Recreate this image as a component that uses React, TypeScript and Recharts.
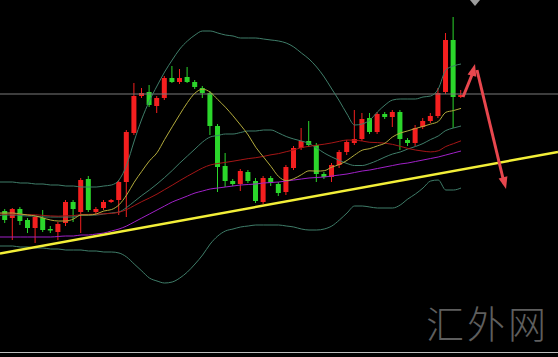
import React from 'react'
import { ComposedChart, Bar, Line, XAxis, YAxis, ReferenceLine, ReferenceDot } from 'recharts'

// candles, index 0..60
const opens = [
  389, 382, 391, 380, 372, 382, 371, 368, 377, 398, 388, 421, 388, 392, 398, 400, 418, 467, 504, 508,
  494, 502, 522, 518, 523, 518, 512, 507, 474, 434, 419, 416, 428, 419, 398, 422, 416, 408, 432, 452,
  459, 455, 426, 423, 435, 448, 457, 461, 482, 468, 486, 483, 488, 460, 457, 473, 479, 484, 508, 560, 503,
]
const highs = [
  391, 392, 393, 382, 384, 390, 374, 378, 400, 400, 422, 424, 393, 400, 401, 420, 470, 517, 512, 515,
  504, 524, 534, 531, 533, 520, 514, 509, 476, 447, 421, 431, 430, 422, 424, 424, 418, 435, 454, 472,
  479, 457, 428, 437, 450, 460, 490, 487, 487, 488, 488, 490, 490, 462, 475, 482, 487, 512, 567, 583, 510,
]
const lows = [
  377, 360, 375, 367, 357, 368, 367, 360, 374, 378, 367, 388, 386, 390, 397, 385, 383, 465, 502, 493,
  487, 500, 517, 516, 517, 511, 502, 465, 408, 413, 414, 409, 417, 397, 396, 414, 404, 405, 430, 450,
  453, 418, 421, 418, 432, 445, 455, 459, 466, 466, 481, 473, 450, 454, 454, 471, 477, 482, 506, 472, 502,
]
const closes = [
  380, 391, 379, 372, 383, 370, 370, 376, 398, 391, 420, 390, 391, 398, 400, 418, 468, 504, 507, 495,
  502, 522, 518, 522, 518, 513, 507, 474, 433, 419, 416, 429, 419, 399, 422, 417, 407, 433, 452, 459,
  455, 426, 423, 435, 448, 458, 461, 481, 468, 486, 483, 488, 461, 457, 472, 479, 484, 507, 560, 503, 505,
]

// indicator lines, index -1..60 (first value sits just left of the first candle)
const bollUpper = [
  418, 418, 418, 417, 417, 416, 416, 415, 415, 414, 414, 413, 413, 413, 414, 415, 420, 435, 459, 481,
  499, 514, 528, 540, 551, 559, 565, 569, 569, 567, 565, 564, 562, 562, 562, 561, 560, 559, 557, 553,
  547, 541, 533, 523, 511, 499, 486, 475, 476, 480, 488, 495, 500, 501, 501, 501, 503, 504, 511, 530,
  534, 536,
]
const bollMid = [
  384, 385, 385, 384.5, 384, 384, 383, 383, 383, 383, 383, 385, 385, 385, 386, 387, 388, 392.5, 398.5, 404.5,
  410, 416, 422.5, 429.5, 437, 444, 451, 458, 463, 464.5, 466, 466, 467.5, 469, 469, 470, 470, 467, 463.5, 461,
  459, 456.5, 452, 447, 443, 439.5, 436.5, 434.5, 434.5, 436.5, 439.5, 443, 446, 448, 451, 453.5, 456.5, 460.5,
  464, 469.5, 472, 474,
]
const bollLower = [
  354, 354, 354, 353, 353, 352, 352, 351, 351, 350, 350, 350, 349, 349, 348, 348, 347, 343, 336, 329,
  322, 319, 317, 318, 322, 328, 336, 345, 356, 364, 369, 371, 373, 374, 375, 375, 375, 375, 374, 373,
  371, 370, 370, 371, 374, 380, 387, 394, 394, 393, 392, 392, 392, 395, 401, 406, 412, 419, 420, 410,
  410, 412,
]
const ma10 = [
  387, 387, 387, 386, 385, 384, 382, 380, 379, 379, 381, 385, 385, 386, 389, 390.4, 395.2, 405, 417.8, 428.7,
  439.1, 447.3, 460.5, 473.2, 485.6, 497.4, 506.9, 510.8, 507.8, 500.4, 492.8, 484.2, 474.9, 465, 452.7, 443.1,
  433.5, 423.5, 419.4, 421.3, 425.3, 429.2, 428.9, 429.3, 432.9, 435.5, 439.6, 445, 449.8, 451.4, 454.1, 456.9,
  463.1, 466.9, 469.1, 471.5, 473.6, 475.9, 478.5, 487.7, 489.4, 491.6,
]
const ma30 = [
  386, 385.8, 386, 385.7, 385.3, 385.2, 384.6, 384.1, 383.8, 384.2, 384.3, 385.5, 385.6, 385.8, 386.2, 386.6,
  387.7, 390.4, 394.4, 398.4, 402, 405.9, 410.4, 414.8, 419.4, 423.8, 428, 432, 435, 436.5, 437.6, 438.8,
  440.1, 441.4, 442.3, 443.6, 445.2, 446.4, 448.3, 450.1, 452.4, 453.6, 454.8, 455.8, 457.1, 458.7, 460, 459.8,
  459, 457.7, 457.4, 456.8, 455.6, 453.7, 451.6, 450, 448.9, 448.1, 449.2, 453.5, 456.3, 459.2,
]
const ma60 = [
  363, 363, 363, 363, 363, 363, 363, 363, 363.5, 364, 364, 365, 365, 366, 367, 369, 371, 374, 378, 382,
  386, 390, 394, 398, 401, 404, 407, 409, 411, 412, 413, 414, 415, 415.5, 416, 417, 417.5, 418, 419, 420,
  421, 422, 422.5, 423, 424, 425, 426, 427.5, 429, 430, 431.5, 433, 434.5, 436, 437, 438.5, 440, 441.5,
  443, 445, 447, 449,
]

const priceLine = 506
const trendLine = [{ x: -0.66, y: 346.5 }, { x: 72.76, y: 448 }]
const arrowUp = [{ x: 60.26, y: 503 }, { x: 61.7, y: 530 }]
const arrowDown = [{ x: 62.1, y: 530 }, { x: 65.7, y: 416 }]

const RED = '#f41f1f'
const GREEN = '#2bd62b'
const BAND = '#3f7d69'
const ARROW = '#e8474e'

const data = bollUpper.map((_, k) => {
  const i = k - 1
  const row: any = {
    i,
    up: bollUpper[k],
    mid: bollMid[k],
    dn: bollLower[k],
    ma10: ma10[k],
    ma30: ma30[k],
    ma60: ma60[k],
  }
  if (i >= 0) {
    row.range = [lows[i], highs[i]]
    row.o = opens[i]
    row.c = closes[i]
    row.h = highs[i]
    row.l = lows[i]
  }
  return row
})

function Candle(props: any) {
  const { x, y, width, height, payload } = props
  if (!payload || payload.o == null) return null
  const top = Math.min(y, y + height)
  const h = Math.abs(height)
  const span = payload.h - payload.l || 1
  const toY = (v: number) => top + ((payload.h - v) / span) * h
  const color = payload.c >= payload.o ? RED : GREEN
  const bTop = toY(Math.max(payload.o, payload.c))
  const bBot = toY(Math.min(payload.o, payload.c))
  const cx = x + width / 2
  return (
    <g>
      <line x1={cx} x2={cx} y1={top} y2={top + h} stroke={color} strokeWidth={1} />
      <rect x={x} y={bTop} width={width} height={Math.max(1.5, bBot - bTop)} fill={color} />
    </g>
  )
}

function arrowHead(dx: number, dy: number) {
  return (p: any) => {
    const len = Math.hypot(dx, dy)
    const ux = dx / len
    const uy = dy / len
    const bx = p.cx - ux * 12
    const by = p.cy - uy * 12
    const pts = [
      [p.cx, p.cy],
      [bx - uy * 4.5, by + ux * 4.5],
      [bx + uy * 4.5, by - ux * 4.5],
    ]
    return <polygon points={pts.map((q) => q.join(',')).join(' ')} fill={ARROW} />
  }
}

export default function App() {
  return (
    <div style={{ position: 'absolute', left: 0, top: 0, width: 558, height: 357, background: '#000', overflow: 'hidden' }}>
      <ComposedChart width={558} height={357} data={data} margin={{ top: 0, right: 0, bottom: 0, left: 0 }}>
        <XAxis dataKey="i" type="number" domain={[-0.658, 72.76]} allowDataOverflow hide />
        <YAxis type="number" domain={[243, 600]} allowDataOverflow hide />
        <ReferenceLine y={priceLine} stroke="#7b7b7b" strokeWidth={1} />
        <Line dataKey="up" type="monotone" stroke={BAND} strokeWidth={1} dot={false} isAnimationActive={false} />
        <Line dataKey="mid" type="monotone" stroke={BAND} strokeWidth={1} dot={false} isAnimationActive={false} />
        <Line dataKey="dn" type="monotone" stroke={BAND} strokeWidth={1} dot={false} isAnimationActive={false} />
        <Line dataKey="ma60" type="monotone" stroke="#a020c8" strokeWidth={1} dot={false} isAnimationActive={false} />
        <Line dataKey="ma30" type="monotone" stroke="#a51616" strokeWidth={1} dot={false} isAnimationActive={false} />
        <Line dataKey="ma10" type="monotone" stroke="#b3ab3c" strokeWidth={1} dot={false} isAnimationActive={false} />
        <Bar dataKey="range" barSize={5} shape={<Candle />} isAnimationActive={false} />
        <ReferenceLine segment={trendLine} stroke="#f3ef38" strokeWidth={2.5} ifOverflow="visible" />
        <ReferenceLine segment={arrowUp} stroke={ARROW} strokeWidth={3} ifOverflow="visible" />
        <ReferenceLine segment={arrowDown} stroke={ARROW} strokeWidth={3} ifOverflow="visible" />
        <ReferenceDot x={61.84} y={536} r={0} ifOverflow="visible" shape={arrowHead(8, -30)} />
        <ReferenceDot x={65.92} y={411} r={0} ifOverflow="visible" shape={arrowHead(31, 120)} />
      </ComposedChart>
      <div style={{ position: 'absolute', left: 470, top: 0, width: 0, height: 0, borderLeft: '5px solid transparent', borderRight: '5px solid transparent', borderTop: '6px solid #9d9d9d' }} />
      <div
        style={{
          position: 'absolute',
          left: 426,
          top: 303,
          fontFamily: '"Noto Sans CJK SC", sans-serif',
          fontWeight: 300,
          fontSize: 38,
          lineHeight: 1,
          letterSpacing: 3,
          color: '#5e5e5e',
          whiteSpace: 'nowrap',
        }}
      >
        汇外网
      </div>
      <div style={{ position: 'absolute', left: 0, top: 352, width: 558, height: 1, background: '#bdbdbd' }} />
    </div>
  )
}
